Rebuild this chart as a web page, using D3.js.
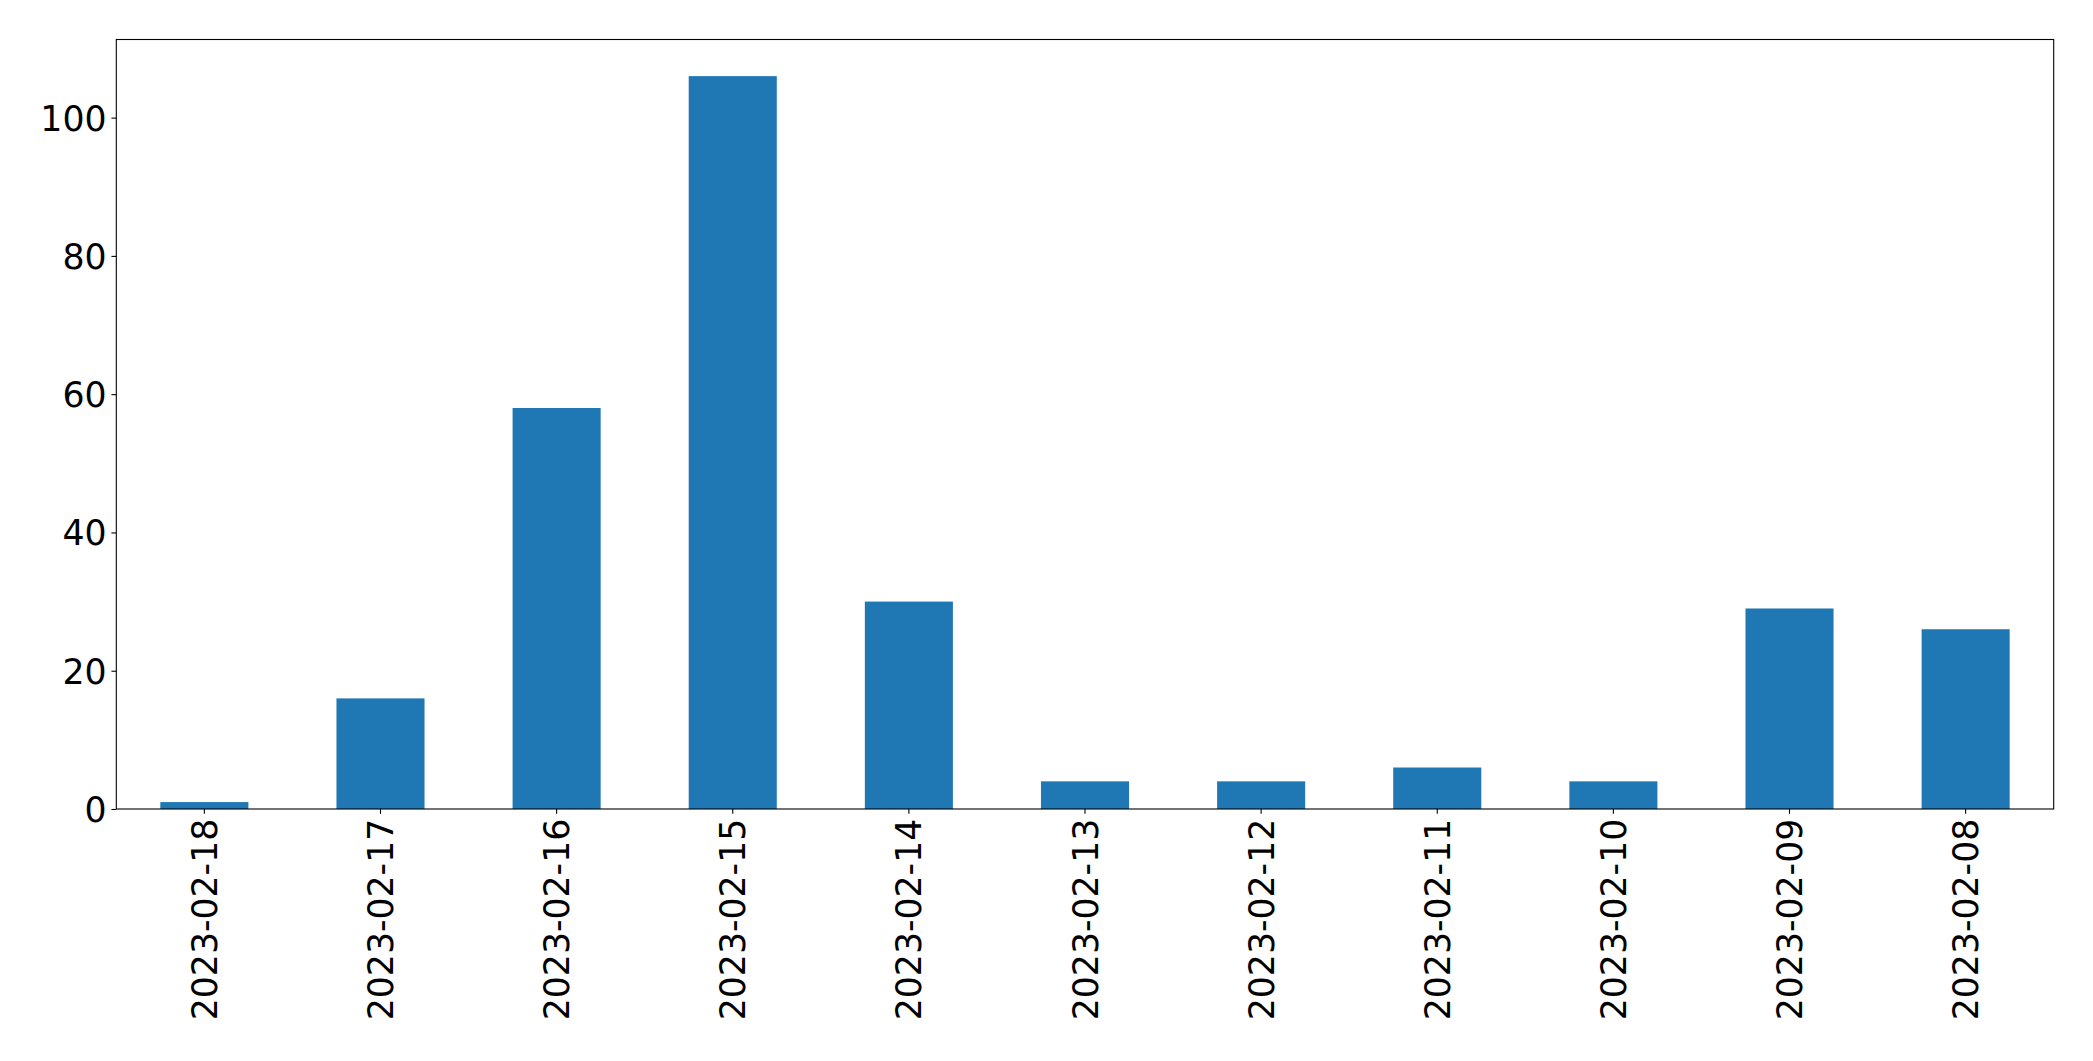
<!DOCTYPE html>
<html>
<head>
<meta charset="utf-8">
<script src="https://cdn.jsdelivr.net/npm/d3@7"></script>
<style>
  html, body { margin: 0; padding: 0; background: #fff; }
  svg { display: block; }
</style>
</head>
<body>
<script>
const categories = ["2023-02-18","2023-02-17","2023-02-16","2023-02-15","2023-02-14","2023-02-13","2023-02-12","2023-02-11","2023-02-10","2023-02-09","2023-02-08"];
const values = [1, 16, 58, 106, 30, 4, 4, 6, 4, 29, 26];
const yTicks = [0, 20, 40, 60, 80, 100];

const W = 2093, H = 1061;
const plotLeft = 116.3, plotRight = 2053.7, plotTop = 39.5, plotBottom = 809;
const fontSize = 34.7;
const tickLen = 4.86, tickPad = 4.86;
const lw = 1.1;

const svg = d3.select("body").append("svg").attr("width", W).attr("height", H);

const x = d3.scaleBand().domain(categories).range([plotLeft, plotRight]).paddingInner(0.5).paddingOuter(0.25);
const yMax = d3.max(values) * 1.05;
const y = d3.scaleLinear().domain([0, yMax]).range([plotBottom, plotTop]);

svg.append("g").selectAll("rect").data(values).join("rect")
  .attr("x", (d, i) => x(categories[i]))
  .attr("width", x.bandwidth())
  .attr("y", d => y(d))
  .attr("height", d => y(0) - y(d))
  .attr("fill", "#1f77b4");

const yAxis = svg.append("g").attr("transform", `translate(${plotLeft},0)`)
  .call(d3.axisLeft(y).tickValues(yTicks).tickFormat(d3.format("d")).tickSize(tickLen).tickPadding(tickPad));
yAxis.select(".domain").remove();
yAxis.selectAll("line").attr("stroke", "#000").attr("stroke-width", lw);
yAxis.selectAll("text").attr("font-family", "DejaVu Sans").attr("font-size", fontSize).attr("fill", "#000").attr("dy", "0.36em");

const xAxis = svg.append("g").attr("transform", `translate(0,${plotBottom})`)
  .call(d3.axisBottom(x).tickSize(tickLen).tickPadding(tickPad));
xAxis.select(".domain").remove();
xAxis.selectAll("line").attr("stroke", "#000").attr("stroke-width", lw);
xAxis.selectAll("text")
  .attr("font-family", "DejaVu Sans").attr("font-size", fontSize).attr("fill", "#000")
  .attr("transform", "rotate(-90)")
  .attr("x", -(tickLen + tickPad))
  .attr("y", 0)
  .attr("dy", "0.36em")
  .style("text-anchor", "end");

svg.append("rect")
  .attr("x", plotLeft).attr("y", plotTop)
  .attr("width", plotRight - plotLeft).attr("height", plotBottom - plotTop)
  .attr("fill", "none").attr("stroke", "#000").attr("stroke-width", lw);
</script>
</body>
</html>
